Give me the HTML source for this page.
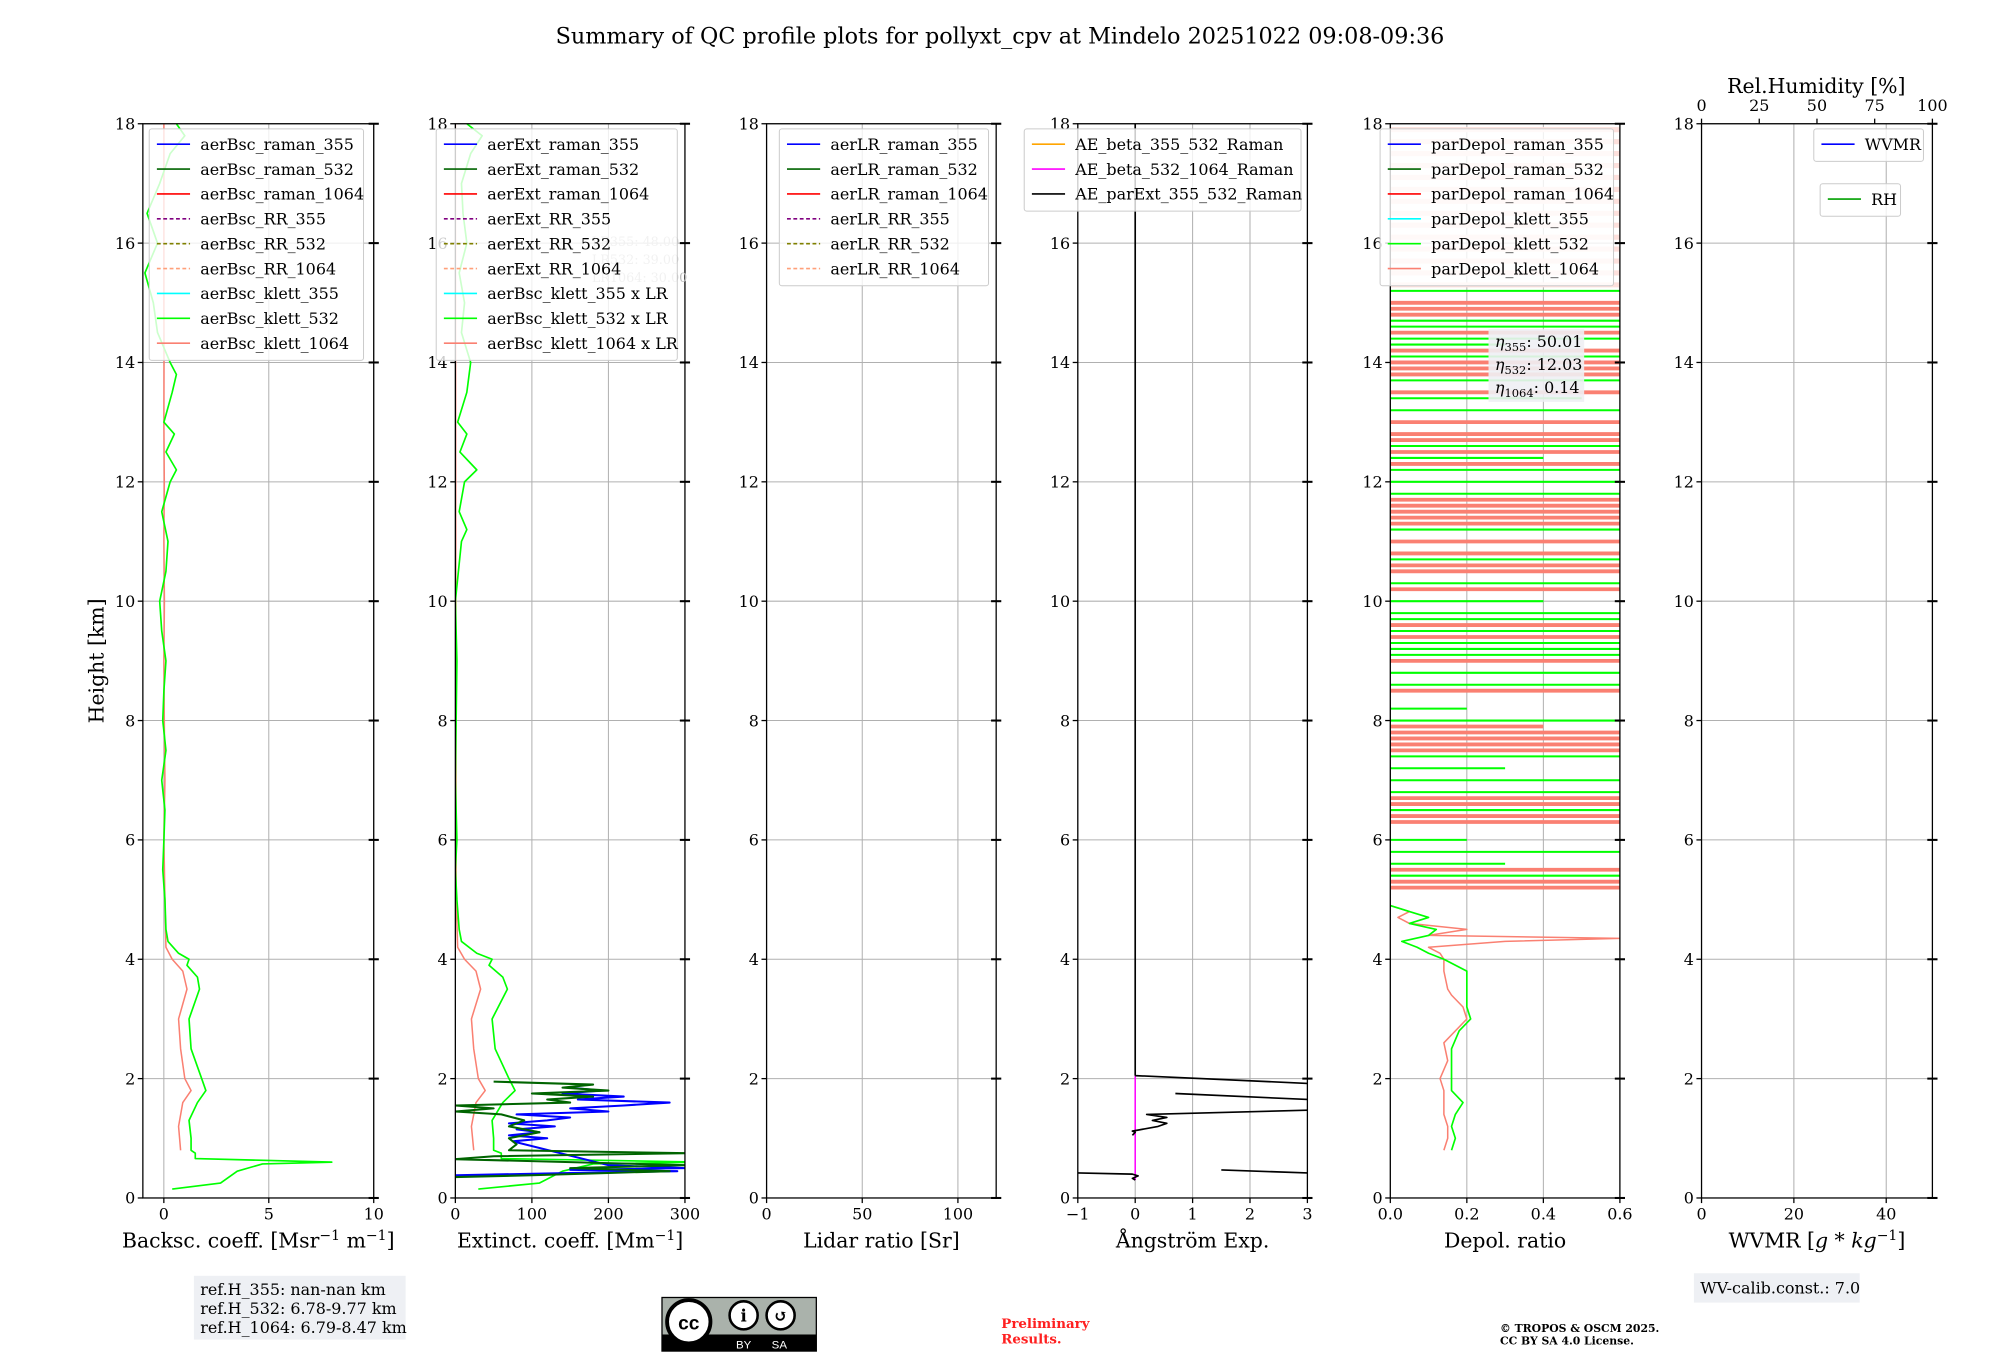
<!DOCTYPE html>
<html><head><meta charset="utf-8">
<style>
html,body{margin:0;padding:0;background:#fff;}
svg{display:block;font-family:"DejaVu Serif","Liberation Serif",serif;}
</style></head>
<body>
<svg id="fig" width="2000" height="1360" viewBox="0 0 1568 1066" preserveAspectRatio="none" xmlns="http://www.w3.org/2000/svg">
<rect x="0" y="0" width="1568" height="1066" fill="#fff"/>
<text x="784" y="34" font-size="17.5" text-anchor="middle">Summary of QC profile plots for pollyxt_cpv at Mindelo 20251022 09:08-09:36</text>
<g id="plots"></g>
<!-- footer -->
<g>
<rect x="152" y="1000" width="166" height="50" fill="#eef0f4"/>
<text x="157" y="1015" font-size="12.5">ref.H_355: nan-nan km</text>
<text x="157" y="1030" font-size="12.5">ref.H_532: 6.78-9.77 km</text>
<text x="157" y="1045" font-size="12.5">ref.H_1064: 6.79-8.47 km</text>
</g>
<g>
<rect x="519" y="1017" width="121" height="42" fill="#aab2ab" stroke="#000" stroke-width="1"/>
<rect x="519" y="1046" width="121" height="13" fill="#000"/>
<circle cx="540" cy="1036" r="17" fill="#fff" stroke="#000" stroke-width="3"/>
<text x="540" y="1042" font-size="15" font-weight="bold" text-anchor="middle" font-family="Liberation Sans,sans-serif">cc</text>
<circle cx="583" cy="1031" r="11" fill="#fff" stroke="#000" stroke-width="2"/>
<circle cx="612" cy="1031" r="11" fill="#fff" stroke="#000" stroke-width="2"/>
<text x="583" y="1036" font-size="13" font-weight="bold" text-anchor="middle">i</text>
<text x="612" y="1036" font-size="13" font-weight="bold" text-anchor="middle">↺</text>
<text x="583" y="1057" font-size="9" fill="#fff" text-anchor="middle" font-family="Liberation Sans,sans-serif">BY</text>
<text x="611" y="1057" font-size="9" fill="#fff" text-anchor="middle" font-family="Liberation Sans,sans-serif">SA</text>
</g>
<text x="785" y="1041" font-size="10.5" font-weight="bold" fill="#ff2020">Preliminary</text>
<text x="785" y="1053" font-size="10.5" font-weight="bold" fill="#ff2020">Results.</text>
<text x="1176" y="1044" font-size="8.5" font-weight="bold">© TROPOS &amp; OSCM 2025.</text>
<text x="1176" y="1054" font-size="8.5" font-weight="bold">CC BY SA 4.0 License.</text>
<g>
<rect x="1328" y="998" width="130" height="23" fill="#eef0f4"/>
<text x="1333" y="1014" font-size="12.5">WV-calib.const.: 7.0</text>
</g>
</svg>
<script>
// ---- data ----
// Panel 1 backscatter (Mm^-1 sr^-1), heights km
const bscKlett532H = [0.15,0.25,0.45,0.57,0.6,0.66,0.75,0.8,1.0,1.3,1.6,1.8,2.0,2.5,3.0,3.5,3.7,3.9,4.0,4.1,4.3,4.5,5,5.5,6,6.5,7,7.5,8,8.5,9,9.5,10,10.5,11,11.5,12,12.2,12.5,12.8,13,13.5,13.8,14,14.5,15,15.5,16,16.5,17,17.5,17.8,18];
const bscKlett532V = [0.4,2.7,3.5,4.7,8.0,1.5,1.5,1.3,1.3,1.2,1.6,2.0,1.8,1.3,1.2,1.7,1.6,1.1,1.2,0.7,0.2,0.1,0.05,-0.05,0,0.05,-0.1,0.1,-0.05,0,0.1,-0.1,-0.2,0.1,0.2,-0.1,0.3,0.6,0.1,0.5,0,0.4,0.6,0.3,-0.3,-0.5,-0.9,-0.3,-0.8,-0.2,0.3,1.0,0.6];
const bscKlett1064H = [0.8,1.2,1.6,1.8,2.0,2.5,3.0,3.5,3.8,4.0,4.2,5,6,7,8,9,10,11,12,13,14,15,16,17,18];
const bscKlett1064V = [0.8,0.7,0.9,1.3,1.0,0.8,0.7,1.1,0.9,0.4,0.1,0.05,0.0,0.05,0.02,0.0,0.03,0.0,0.02,0.0,0.01,0.0,0.0,0.0,0.0];
// Panel 2 extinction (Mm^-1)
const extKlett532H = [0.15,0.25,0.45,0.57,0.6,0.66,0.75,0.8,1.0,1.3,1.6,1.8,2.0,2.5,3.0,3.5,3.7,3.9,4.0,4.1,4.3,4.5,5,5.5,6,7,8,9,10,11,11.2,11.5,12,12.2,12.5,12.8,13,13.5,14,14.5,15,15.5,16,16.5,17,17.5,17.8,18];
const extKlett532V = [30,110,140,180,320,60,60,50,50,48,62,78,70,52,48,68,62,44,48,28,8,5,2,0,2,0,1,2,0,8,15,5,12,28,6,15,3,15,20,8,12,5,15,10,8,20,35,15];
const extKlett1064H = [0.8,1.2,1.6,1.8,2.0,2.5,3.0,3.5,3.8,4.0,4.2,5,18];
const extKlett1064V = [24,21,27,39,30,24,21,33,27,12,3,1,0];
const extRaman355H = [0.38,0.42,0.45,0.47,0.5,0.55,0.95,1.0,1.05,1.1,1.15,1.2,1.25,1.3,1.35,1.4,1.45,1.5,1.55,1.6,1.65,1.7,1.75,1.8,1.85];
const extRaman355V = [0,150,290,150,300,200,75,120,70,110,80,130,70,120,150,80,200,150,220,280,160,220,140,190,150];
const extRaman532H = [0.35,0.38,0.42,0.45,0.5,0.55,0.6,0.65,0.7,0.75,0.8,0.9,1.0,1.1,1.2,1.3,1.4,1.45,1.5,1.55,1.6,1.65,1.7,1.75,1.8,1.85,1.9,1.95];
const extRaman532V = [0,100,200,280,150,300,150,0,50,300,70,80,70,110,70,90,60,0,50,0,150,120,180,100,200,140,180,50];
// Panel 4 Angstrom exponent (null = gap)
const aeParExtH = [0.42,0.4,0.37,0.33,0.3,null,0.47,0.42,null,1.05,1.1,1.12,1.2,1.25,1.3,1.35,1.4,1.47,null,1.75,1.65,null,2.05,1.92,null,2.05,18];
const aeParExtV = [-1,-0.05,0.05,-0.05,0,null,1.5,3,null,-0.05,0,-0.05,0.4,0.55,0.3,0.55,0.2,3,null,0.7,3,null,0,3,null,0,0];
const aeBeta532H = [0.3,2.05];
const aeBeta532V = [0,0];
// Panel 5 depol ratio
const depKlett532H = [0.8,1.0,1.2,1.4,1.6,1.8,2.2,2.5,2.8,3.0,3.2,3.5,3.8,4.0,4.1,4.2,4.3,4.4,4.5,4.6,4.7,4.8,4.9];
const depKlett532V = [0.16,0.17,0.16,0.17,0.19,0.16,0.16,0.16,0.18,0.21,0.2,0.2,0.2,0.14,0.1,0.07,0.03,0.1,0.12,0.05,0.1,0.05,0];
const depKlett1064H = [0.8,1.0,1.2,1.4,1.6,1.8,2.0,2.3,2.6,2.8,3.0,3.2,3.4,3.5,3.8,4.0,4.1,4.2,4.3,4.35,4.4,4.5,4.6,4.7,4.8,4.9];
const depKlett1064V = [0.14,0.15,0.15,0.14,0.14,0.14,0.13,0.15,0.14,0.17,0.2,0.19,0.16,0.15,0.14,0.14,0.13,0.1,0.3,0.6,0.1,0.2,0.05,0.02,0.05,0];
const depBand1064H = [5.2,5.3,5.5,6.3,6.4,6.6,6.7,7.5,7.6,7.7,7.8,7.9,8.5,9.0,9.4,9.6,10.2,10.5,10.6,10.8,11.0,11.3,11.4,11.5,11.6,11.7,12.3,12.5,12.7,12.8,13.0,13.5,13.8,13.9,14.0,14.2,14.5,14.8,14.9,15.0];
const depBand1064V = [0.6,0.6,0.6,0.6,0.6,0.6,0.6,0.6,0.6,0.6,0.6,0.4,0.6,0.6,0.6,0.6,0.6,0.6,0.6,0.6,0.6,0.6,0.6,0.6,0.6,0.6,0.6,0.6,0.6,0.6,0.6,0.6,0.6,0.6,0.6,0.6,0.6,0.6,0.6,0.6];
const depBand532H = [5.4,5.6,5.8,6.0,6.5,6.8,7.0,7.2,7.4,8.0,8.2,8.6,8.8,9.1,9.2,9.3,9.5,9.7,9.8,10.0,10.3,10.7,11.2,11.8,12.0,12.2,12.4,12.6,13.2,13.4,13.7,14.1,14.3,14.4,14.6,14.7,15.2];
const depBand532V = [0.6,0.3,0.6,0.2,0.6,0.6,0.6,0.3,0.6,0.6,0.2,0.6,0.6,0.6,0.6,0.6,0.6,0.6,0.6,0.4,0.6,0.6,0.6,0.6,0.6,0.6,0.4,0.6,0.6,0.5,0.6,0.6,0.3,0.6,0.6,0.6,0.6];
const depBandPaleH = [15.3,15.5,15.7,15.9,16.1,16.3,16.5,16.7,16.9,17.1,17.3,17.5,17.7,17.9];
const depBandPaleV = [0.6,0.6,0.6,0.6,0.6,0.6,0.6,0.6,0.6,0.6,0.6,0.6,0.6,0.6];
// tick labels
const yTicks = [0,2,4,6,8,10,12,14,16,18];
const xTicks1 = [0,5,10], xTicks2 = [0,100,200,300], xTicks3 = [0,50,100];
const xTicks4 = [-1,0,1,2,3], xTicks5 = [0.0,0.2,0.4,0.6], xTicks6 = [0,20,40], rhTicks = [0,25,50,75,100];

const NS="http://www.w3.org/2000/svg";
const root=document.getElementById('plots');
const Y0=939, Y1=97;
function sy(h){return Y0+(Y1-Y0)*h/18;}
function mk(tag,attrs,parent){const e=document.createElementNS(NS,tag);for(const k in attrs)e.setAttribute(k,attrs[k]);(parent||root).appendChild(e);return e;}

function makePanel(idx,x0,x1,xmin,xmax,xticks,fmt,xlabel){
  const sx=v=>x0+(x1-x0)*(v-xmin)/(xmax-xmin);
  const g=mk('g',{});
  
  
  const cp=mk('clipPath',{id:'cp'+idx},g);
  mk('rect',{x:x0,y:Y1,width:x1-x0,height:Y0-Y1},cp);
  // grid
  yTicks.forEach(t=>{const l=mk('line',{x1:x0,x2:x1,y1:sy(t),y2:sy(t),stroke:'#b0b0b0','stroke-width':0.8},g);});
  xticks.forEach(t=>{mk('line',{x1:sx(t),x2:sx(t),y1:Y1,y2:Y0,stroke:'#b0b0b0','stroke-width':0.8},g);});
  const data=mk('g',{'clip-path':'url(#cp'+idx+')'},g);
  // axes
  const fr=mk('rect',{x:x0,y:Y1,width:x1-x0,height:Y0-Y1,fill:'none',stroke:'#000','stroke-width':1},g);
  yTicks.forEach(t=>{
    mk('line',{x1:x0-4,x2:x0,y1:sy(t),y2:sy(t),stroke:'#000','stroke-width':1},g);
    mk('line',{x1:x1-4,x2:x1+4,y1:sy(t),y2:sy(t),stroke:'#000','stroke-width':1.6},g);
    const tx=mk('text',{x:x0-6,y:sy(t)+4.5,'font-size':12.5,'text-anchor':'end'},g);tx.textContent=t;
  });
  xticks.forEach(t=>{
    mk('line',{x1:sx(t),x2:sx(t),y1:Y0,y2:Y0+4,stroke:'#000','stroke-width':1},g);
    const tx=mk('text',{x:sx(t),y:Y0+17,'font-size':12.5,'text-anchor':'middle'},g);tx.textContent=fmt(t);
  });
  const xl=mk('text',{x:(x0+x1)/2,y:978,'font-size':16,'text-anchor':'middle'},g);
  xl.innerHTML=xlabel;
  
  
  return {sx,data,g};
}
function line(p,H,V,color,w,name,dash){
  let d='',pen=false;
  for(let i=0;i<H.length;i++){
    if(H[i]===null){pen=false;continue;}
    d+=(pen?'L':'M')+p.sx(V[i]).toFixed(1)+','+sy(H[i]).toFixed(1);pen=true;
  }
  const e=mk('path',{d:d,fill:'none',stroke:color,'stroke-width':w,'stroke-linejoin':'round'},p.data);
  if(dash)e.setAttribute('stroke-dasharray',dash);
  
  
}
function bands(p,H,V,color,w,name){
  for(let i=0;i<H.length;i++){
    const e=mk('line',{x1:p.sx(0),x2:p.sx(V[i]),y1:sy(H[i]),y2:sy(H[i]),stroke:color,'stroke-width':w},p.data);
    
    
  }
}
function legend(x,y,w,entries,name,fs){
  const g=mk('g',{});
  
  
  const rh=19.5;
  mk('rect',{x:x,y:y,width:w,height:entries.length*rh+6,fill:'#fff','fill-opacity':0.8,stroke:'#ccc','stroke-width':0.8,rx:2},g);
  entries.forEach((en,i)=>{
    const yy=y+12+i*rh;
    const l=mk('line',{x1:x+6,x2:x+32,y1:yy,y2:yy,stroke:en[1],'stroke-width':1.3},g);
    if(en[2])l.setAttribute('stroke-dasharray','3,2');
    const t=mk('text',{x:x+40,y:yy+4.5,'font-size':fs||12.5},g);t.textContent=en[0];
    
    
  });
}
const f0=t=>String(t), f1=t=>t.toFixed(1), fm=t=>t<0?'\u2212'+(-t):String(t);

// Panel 1
const p1=makePanel(1,112,293,-1,10,xTicks1,f0,'Backsc. coeff. [Msr<tspan font-size="11" dy="-6">−1</tspan><tspan dy="6"> m</tspan><tspan font-size="11" dy="-6">−1</tspan><tspan dy="6">]</tspan>');
line(p1,bscKlett1064H,bscKlett1064V,'#fa8072',1.2,'bsc-klett-1064-line');
line(p1,bscKlett532H,bscKlett532V,'#00ff00',1.3,'bsc-klett-532-line');
// Panel 2
const p2=makePanel(2,357,537,0,300,xTicks2,f0,'Extinct. coeff. [Mm<tspan font-size="11" dy="-6">−1</tspan><tspan dy="6">]</tspan>');
line(p2,extKlett1064H,extKlett1064V,'#fa8072',1.2,'ext-klett-1064-line');
line(p2,extKlett532H,extKlett532V,'#00ff00',1.3,'ext-klett-532-line');
line(p2,extRaman355H,extRaman355V,'#0000ff',1.6,'ext-raman-355-line');
line(p2,extRaman532H,extRaman532V,'#006400',1.6,'ext-raman-532-line');
// Panel 3
makePanel(3,601,781,0,120,xTicks3,f0,'Lidar ratio [Sr]');
// Panel 4
const p4=makePanel(4,845,1025,-1,3,xTicks4,fm,'Ångström Exp.');
line(p4,aeBeta532H,aeBeta532V,'#ff00ff',1.2,'ae-beta-532-1064-line');
line(p4,aeParExtH,aeParExtV,'#000',1.3,'ae-parext-355-532-line');
// Panel 5
const p5=makePanel(5,1090,1270,0,0.6,xTicks5,f1,'Depol. ratio');
bands(p5,depBandPaleH,depBandPaleV,'#fde0dc',4,'depol-band-pale');
bands(p5,depBand1064H,depBand1064V,'#fa8072',3,'depol-band-1064');
bands(p5,depBand532H,depBand532V,'#00ff00',1.6,'depol-band-532');
line(p5,depKlett1064H,depKlett1064V,'#fa8072',1.2,'depol-klett-1064-line');
line(p5,depKlett532H,depKlett532V,'#00ff00',1.3,'depol-klett-532-line');
// Panel 6
const p6=makePanel(6,1334,1515,0,50,xTicks6,f0,'WVMR [<tspan font-style="italic">g</tspan> * <tspan font-style="italic">kg</tspan><tspan font-size="11" dy="-6">−1</tspan><tspan dy="6">]</tspan>');
rhTicks.forEach(t=>{
  const x=1334+(1515-1334)*t/100;
  mk('line',{x1:x,x2:x,y1:Y1,y2:Y1-4,stroke:'#000','stroke-width':1});
  const tx=mk('text',{x:x,y:87,'font-size':12.5,'text-anchor':'middle'});tx.textContent=t;
});
const rht=mk('text',{x:1424,y:73,'font-size':16,'text-anchor':'middle'});rht.textContent='Rel.Humidity [%]';



// Y axis title
const yt=mk('text',{x:0,y:0,'font-size':16,'text-anchor':'middle',transform:'translate(81,518) rotate(-90)'});
yt.textContent='Height [km]';



// panel 2 LR notes
[['LR355: 48.00',193],['LR532: 39.00',207],['LR1064: 30.00',221]].forEach(a=>{
  const t=mk('text',{x:464,y:a[1],'font-size':10,fill:'#bbb'});t.textContent=a[0];
});

// legends
legend(117,101,168,[['aerBsc_raman_355','#0000ff'],['aerBsc_raman_532','#006400'],['aerBsc_raman_1064','#ff0000'],['aerBsc_RR_355','#800080',1],['aerBsc_RR_532','#808000',1],['aerBsc_RR_1064','#ffa07a',1],['aerBsc_klett_355','#00ffff'],['aerBsc_klett_532','#00ff00'],['aerBsc_klett_1064','#fa8072']],'legend-backscatter');
legend(342,101,189,[['aerExt_raman_355','#0000ff'],['aerExt_raman_532','#006400'],['aerExt_raman_1064','#ff0000'],['aerExt_RR_355','#800080',1],['aerExt_RR_532','#808000',1],['aerExt_RR_1064','#ffa07a',1],['aerBsc_klett_355 x LR','#00ffff'],['aerBsc_klett_532 x LR','#00ff00'],['aerBsc_klett_1064 x LR','#fa8072']],'legend-extinction');
legend(611,101,164,[['aerLR_raman_355','#0000ff'],['aerLR_raman_532','#006400'],['aerLR_raman_1064','#ff0000'],['aerLR_RR_355','#800080',1],['aerLR_RR_532','#808000',1],['aerLR_RR_1064','#ffa07a',1]],'legend-lidar-ratio');
legend(803,101,217,[['AE_beta_355_532_Raman','#ffa500'],['AE_beta_532_1064_Raman','#ff00ff'],['AE_parExt_355_532_Raman','#000']],'legend-angstrom');
legend(1082,101,183,[['parDepol_raman_355','#0000ff'],['parDepol_raman_532','#006400'],['parDepol_raman_1064','#ff0000'],['parDepol_klett_355','#00ffff'],['parDepol_klett_532','#00ff00'],['parDepol_klett_1064','#fa8072']],'legend-depol');
legend(1422,101,86,[['WVMR','#0000ff']],'legend-wvmr');
legend(1427,144,63,[['RH','#00a000']],'legend-rh');

// eta box
const eg=mk('g',{});


mk('rect',{x:1167,y:258,width:75,height:57,fill:'#eef0f4','fill-opacity':0.9},eg);
[['355','50.01',272],['532','12.03',290],['1064','0.14',308]].forEach(a=>{
  const t=mk('text',{x:1172,y:a[2],'font-size':12.5},eg);
  t.innerHTML='<tspan font-style="italic">η</tspan><tspan font-size="9" dy="3">'+a[0]+'</tspan><tspan dy="-3">: '+a[1]+'</tspan>';
});
</script>
</body></html>
